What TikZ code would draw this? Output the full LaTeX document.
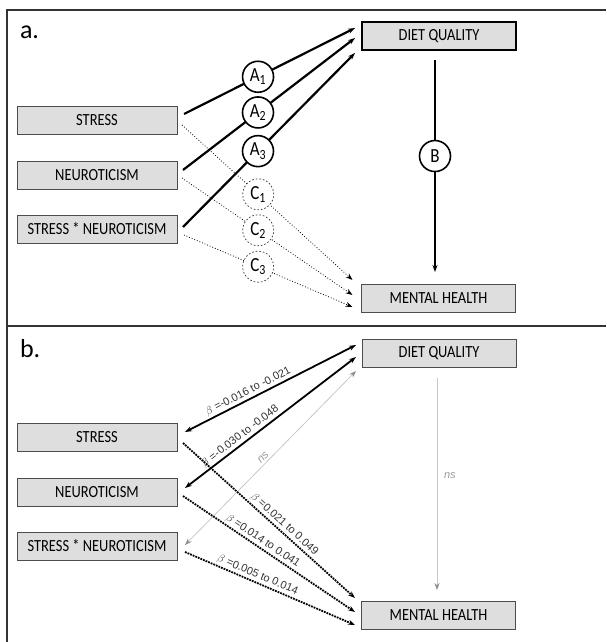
\documentclass[tikz,border=0pt]{standalone}
\usepackage{fontspec}
\setmainfont{Carlito}
\newfontfamily\boxfont[FakeStretch=0.85]{Carlito}
\newfontfamily\coeffont{Liberation Sans}
\usepackage{tikz}
\usetikzlibrary{arrows.meta}
\usetikzlibrary{positioning}
\definecolor{boxgray}{HTML}{DEDEDE}
\definecolor{nsgray}{HTML}{C8C8C8}
\tikzset{
% Define standard arrow tip
>={Stealth[length=7pt, width=5pt]},
varbox/.style={rectangle, draw=black!70, fill=boxgray, line width=0.9pt,
  minimum height=28pt, font=\boxfont\fontsize{17}{17}\selectfont},
acirc/.style={circle, draw=black, line width=1.6pt, fill=white,
  minimum size=31pt, font=\boxfont\fontsize{20}{20}\selectfont},
ccirc/.style={acirc, draw=black!80, dotted, line width=0.7pt},
apath/.style={->, line width=2.2pt},
cpath/.style={->, dotted, line width=0.8pt},
assoc/.style={<->, line width=1.8pt},
nspath/.style={draw=nsgray, line width=0.8pt, {Stealth[length=7pt, width=5pt, color=black!45]}-{Stealth[length=7pt, width=5pt, color=black!45]}},
effect/.style={->, densely dotted, line width=1.8pt},
coef/.style={font=\coeffont\fontsize{11}{11}\selectfont, text=black!80,
  sloped, above=1.5pt, inner sep=1pt},
nslabel/.style={coef, text=black!40, font=\coeffont\itshape\fontsize{11}{11}\selectfont},
panel/.style={font=\fontsize{26}{26}\selectfont, anchor=base west}
}
\begin{document}
\begin{tikzpicture}[x=1pt, y=-1pt, inner sep=0, outer sep=0]
  \useasboundingbox (0,0) rectangle (606,642);
  % frame
  \draw[line width=1.4pt, black!80] (7,642) -- (7,10) -- (606,10);
  \draw[line width=1.4pt, black!80] (7,326) -- (606,326);

  % panel a
  \node[panel] (a-label) at (20,38) {a.};
  \node[varbox, minimum width=160pt] (a-stress) at (97,120) {STRESS};
  \node[varbox, minimum width=160pt] (a-neuro) at (97,175) {NEUROTICISM};
  \node[varbox, minimum width=160pt] (a-inter) at (97,229) {STRESS * NEUROTICISM};
  \node[varbox, minimum width=154pt, draw=black, line width=2.4pt] (a-diet) at (439,36) {DIET QUALITY};
  \node[varbox, minimum width=154pt] (a-mental) at (438.5,298) {MENTAL HEALTH};

  \draw[cpath] ([xshift=5pt, yshift=-5pt]a-stress.east) -- node[ccirc, pos=0.447] (c1) {C\textsubscript{1}} ([xshift=-9pt, yshift=18pt]a-mental.west);
  \draw[cpath] ([xshift=5pt, yshift=-3pt]a-neuro.east) -- node[ccirc, pos=0.447] (c2) {C\textsubscript{2}} ([xshift=-9pt, yshift=3pt]a-mental.west);
  \draw[cpath] ([xshift=7pt, yshift=-6pt]a-inter.east) -- node[ccirc, pos=0.44] (c3) {C\textsubscript{3}} ([xshift=-9pt, yshift=-9pt]a-mental.west);

  \draw[apath] ([xshift=7pt, yshift=6pt]a-stress.east) -- node[acirc, pos=0.433] (a1) {A\textsubscript{1}} ([xshift=-7pt, yshift=8pt]a-diet.west);
  \draw[apath] ([xshift=6pt, yshift=5pt]a-neuro.east) -- node[acirc, pos=0.436] (a2) {A\textsubscript{2}} ([xshift=-7pt, yshift=-2pt]a-diet.west);
  \draw[apath] ([xshift=6pt, yshift=2pt]a-inter.east) -- node[acirc, pos=0.436] (a3) {A\textsubscript{3}} ([xshift=-7pt, yshift=-17pt]a-diet.west);

  \draw[->, line width=1.6pt] ([xshift=-4pt, yshift=-10pt]a-diet.south) -- node[acirc, pos=0.453] (b) {B} ([xshift=-3.5pt, yshift=12pt]a-mental.north);

  % panel b
  \node[panel] (b-label) at (20,357) {b.};
  \node[varbox, minimum width=160pt] (b-stress) at (97,437) {STRESS};
  \node[varbox, minimum width=160pt] (b-neuro) at (97,492) {NEUROTICISM};
  \node[varbox, minimum width=160pt] (b-inter) at (97,546) {STRESS * NEUROTICISM};
  \node[varbox, minimum width=154pt] (b-diet) at (439,353.5) {DIET QUALITY};
  \node[varbox, minimum width=154pt] (b-mental) at (438.5,615) {MENTAL HEALTH};

  \draw[nspath] ([xshift=8pt, yshift=1pt]b-inter.east) -- node[nslabel, pos=0.48] {ns} ([xshift=-6pt, yshift=-17.5pt]b-diet.west);
  \draw[nspath, -{Stealth[length=7pt, width=5pt, color=black!45]}] ([xshift=-2pt, yshift=-10pt]b-diet.south) -- node[nslabel, sloped=false, above=0pt, right=6pt, pos=0.46] {ns} ([xshift=-1.5pt, yshift=11pt]b-mental.north);

  \draw[assoc] ([xshift=8pt, yshift=5pt]b-stress.east) -- node[coef, pos=0.39] {$\beta$ =-0.016 to -0.021} ([xshift=-6pt, yshift=8.5pt]b-diet.west);
  \draw[assoc] ([xshift=8pt, yshift=4pt]b-neuro.east) -- node[coef, pos=0.35] {$\beta$ =-0.030 to -0.048} ([xshift=-6pt, yshift=-3.5pt]b-diet.west);

  \draw[effect] ([xshift=6pt, yshift=-6pt]b-stress.east) -- node[coef, pos=0.56] {$\beta$ =0.021 to 0.049} ([xshift=-6.5pt, yshift=17pt]b-mental.west);
  \draw[effect] ([xshift=6pt, yshift=-4pt]b-neuro.east) -- node[coef, pos=0.44] {$\beta$ =0.014 to 0.041} ([xshift=-6.5pt, yshift=3pt]b-mental.west);
  \draw[effect] ([xshift=8pt, yshift=-6pt]b-inter.east) -- node[coef, pos=0.41] {$\beta$ =0.005 to 0.014} ([xshift=-6.5pt, yshift=-10pt]b-mental.west);
\end{tikzpicture}
\end{document}
